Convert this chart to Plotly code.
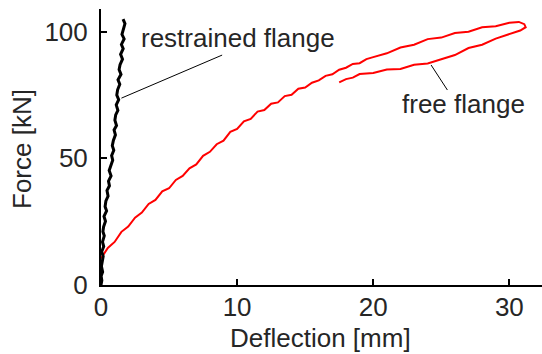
import plotly.graph_objects as go

# Restrained flange: deflection [mm] and force [kN]
restrained_x = [0.00, 0.06, 0.01, 0.12, 0.03, 0.09, 0.16, 0.05, 0.20, 0.11, 0.24, 0.14,
                0.19, 0.33, 0.22, 0.41, 0.30, 0.36, 0.52, 0.44, 0.62, 0.55, 0.74, 0.60,
                0.69, 0.86, 0.78, 0.94, 0.83, 0.91, 1.06, 0.96, 1.14, 1.02, 1.08, 1.24,
                1.12, 1.30, 1.16, 1.22, 1.38, 1.25, 1.47, 1.33, 1.40, 1.58, 1.44, 1.63,
                1.50, 1.70, 1.54, 1.66, 1.76, 1.62]
restrained_y = [0.0, 1.8, 3.6, 5.2, 7.4, 9.0, 11.3, 13.1, 15.2, 17.0, 19.4, 21.1,
                23.0, 25.2, 27.1, 29.3, 31.0, 33.2, 35.1, 37.3, 39.2, 41.0, 43.1, 45.2,
                47.0, 49.3, 51.1, 53.2, 55.0, 57.1, 59.3, 61.2, 63.0, 65.1, 67.2, 69.0,
                71.1, 73.2, 75.0, 77.1, 79.3, 81.0, 83.2, 85.1, 87.0, 89.2, 91.1, 93.3,
                95.0, 97.2, 99.0, 101.1, 103.2, 105.0]

# Free flange: loading branch, peak turn, unloading branch
free_x = [0.0, 0.5, 1.0, 1.5, 2.0, 2.5, 3.0, 3.5, 4.0, 4.5, 5.0, 5.5, 6.0, 6.5,
          7.0, 7.5, 8.0, 8.5, 9.0, 9.5, 10.0, 10.5, 11.0, 11.5, 12.0, 12.5, 13.0,
          13.5, 14.0, 14.5, 15.0, 15.5, 16.0, 16.5, 17.0, 17.5, 18.0, 18.5, 19.0,
          19.5, 20.0, 21.0, 22.0, 23.0, 24.0, 25.0, 26.0, 27.0, 28.0, 29.0, 30.0,
          30.7, 31.1, 31.2, 30.8,
          30.0, 29.0, 28.0, 27.0, 26.0, 25.0, 24.0, 23.0, 22.0, 21.0, 20.0, 19.0,
          18.5, 18.0, 17.5]
free_y = [10.5, 14.6, 17.0, 21.0, 23.1, 26.6, 28.6, 32.0, 33.6, 37.0, 38.2, 41.5, 43.1, 46.1,
          47.6, 51.0, 52.6, 55.6, 57.0, 60.5, 61.6, 64.6, 65.6, 68.5, 69.1, 71.6, 72.1,
          74.6, 75.1, 77.5, 78.0, 79.9, 80.8, 82.6, 83.2, 85.0, 85.8, 87.3, 87.6,
          89.2, 90.0, 91.5, 93.8, 94.9, 97.1, 97.7, 99.5, 100.0, 101.8, 102.2, 103.6,
          103.9, 103.0, 101.8, 100.5,
          99.0, 97.3, 94.9, 93.6, 90.8, 89.3, 87.5, 87.0, 85.3, 85.1, 83.7, 83.3,
          81.9, 81.3, 80.0]

x_ticks = [0, 10, 20, 30]
y_ticks = [0, 50, 100]
x_range = [0, 32.4]
y_range = [0, 109]

# Leader lines from labels to curves (data units)
restrained_leader_x = [8.9, 1.5]
restrained_leader_y = [90.8, 73.8]
free_leader_x = [24.25, 25.45]
free_leader_y = [86.9, 77.0]

FONT = "Liberation Sans, Arial, sans-serif"
TXT = "#262626"

fig = go.Figure()
fig.add_trace(go.Scatter(x=free_x, y=free_y, mode="lines",
                         line=dict(color="#ff0000", width=2), showlegend=False))
fig.add_trace(go.Scatter(x=restrained_x, y=restrained_y, mode="lines",
                         line=dict(color="#000000", width=3), showlegend=False))
fig.add_trace(go.Scatter(x=restrained_leader_x, y=restrained_leader_y, mode="lines",
                         line=dict(color="#000000", width=1), showlegend=False))
fig.add_trace(go.Scatter(x=free_leader_x, y=free_leader_y, mode="lines",
                         line=dict(color="#000000", width=1), showlegend=False))

fig.add_annotation(x=2.8, y=97.6, text="restrained flange", showarrow=False,
                   xanchor="left", yanchor="middle",
                   font=dict(family=FONT, size=26, color=TXT))
fig.add_annotation(x=22.0, y=71.5, text="free flange", showarrow=False,
                   xanchor="left", yanchor="middle",
                   font=dict(family=FONT, size=26, color=TXT))

# Axis titles
fig.add_annotation(xref="paper", yref="paper", x=(320 - 101) / 441, y=(285 - 338) / 276,
                   text="Deflection [mm]", showarrow=False, xanchor="center", yanchor="middle",
                   borderpad=0, font=dict(family=FONT, size=26, color=TXT))
fig.add_annotation(xref="paper", yref="paper", x=(22 - 101) / 441, y=(285 - 149) / 276,
                   text="Force [kN]", showarrow=False, xanchor="center", yanchor="middle",
                   textangle=-90, font=dict(family=FONT, size=26, color=TXT))

axis_common = dict(showgrid=False, zeroline=False, showline=True, linecolor="black",
                   linewidth=2, ticks="inside", ticklen=6, tickwidth=2, tickcolor="black",
                   tickfont=dict(family=FONT, size=26, color=TXT), mirror=False)

fig.update_layout(
    width=542, height=354,
    margin=dict(l=101, r=0, t=9, b=69),
    paper_bgcolor="white", plot_bgcolor="white",
    xaxis=dict(range=x_range, tickvals=x_ticks, ticklabelstandoff=-2, **axis_common),
    yaxis=dict(range=y_range, tickvals=y_ticks, ticklabelstandoff=6, **axis_common),
)

fig.write_html("out.html")
